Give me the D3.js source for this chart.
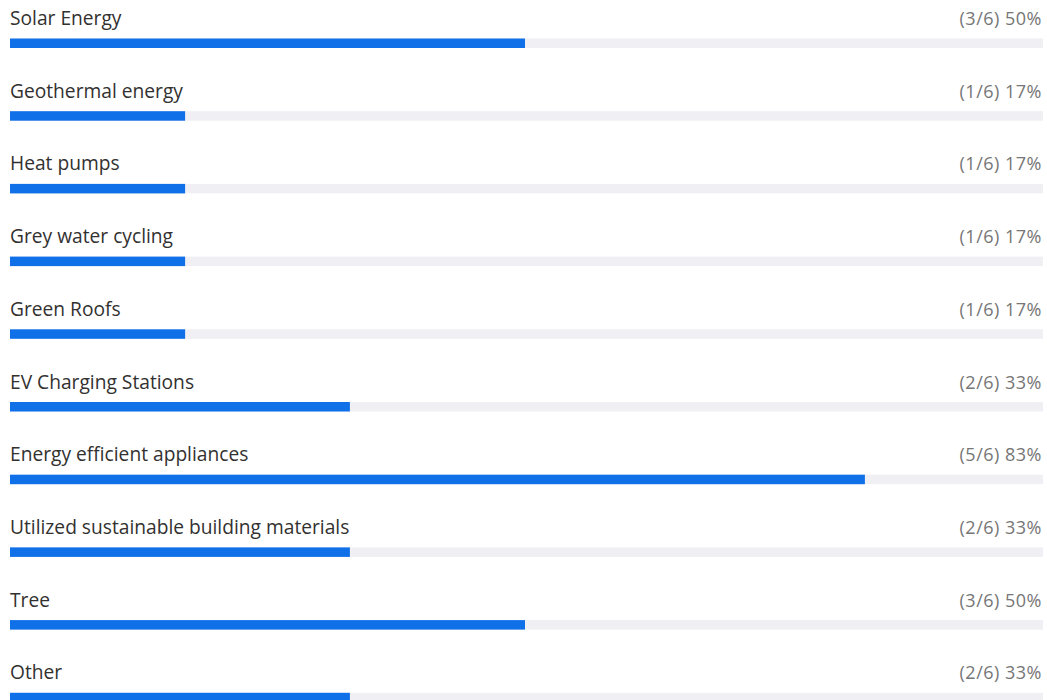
<!DOCTYPE html>
<html lang="en">
<head>
  <meta charset="UTF-8" />
  <title>Survey results</title>
  <style>
    html, body { margin: 0; padding: 0; background: #fff; }
    svg { display: block; }
    .label { font-family: "Open Sans", "Noto Sans", sans-serif; font-size: 19.2px; fill: #323130; }
    .count { font-family: "Open Sans", "Noto Sans", sans-serif; font-size: 18px; letter-spacing: 0.5px; fill: #767676; }
  </style>
</head>
<body>
  <svg></svg>
  <script src="https://d3js.org/d3.v7.min.js"></script>
  <script>
    const categories = [
      'Solar Energy', 'Geothermal energy', 'Heat pumps', 'Grey water cycling', 'Green Roofs',
      'EV Charging Stations', 'Energy efficient appliances', 'Utilized sustainable building materials',
      'Tree', 'Other'
    ];
    const votes = [3, 1, 1, 1, 1, 2, 5, 2, 3, 2];
    const total = 6;

    const width = 1047, height = 700;
    const svg = d3.select("svg").attr("width", width).attr("height", height);

    // bars are drawn from the rounded percentage shown in the label
    const pct = v => Math.round(v / total * 100);
    const x = d3.scaleLinear().domain([0, 100]).range([10, 1040]);
    const y = d3.scaleBand().domain(categories).range([0, 727]);

    const row = svg.selectAll("g.row")
      .data(categories.map((c, i) => ({ c, v: votes[i] })))
      .join("g")
      .attr("class", "row")
      .attr("transform", d => `translate(0,${y(d.c)})`);

    // track
    row.append("rect")
      .attr("x", 10)
      .attr("y", 38.5)
      .attr("width", 1033)
      .attr("height", 9.5)
      .attr("fill", "#efeff4");

    // value bar
    row.append("rect")
      .attr("x", x(0))
      .attr("y", 38.5)
      .attr("width", d => x(pct(d.v)) - x(0))
      .attr("height", 9.5)
      .attr("fill", "#1070e8");

    row.append("text")
      .attr("class", "label")
      .attr("x", 10)
      .attr("y", 25)
      .text(d => d.c);

    row.append("text")
      .attr("class", "count")
      .attr("x", 1042)
      .attr("y", 25)
      .attr("text-anchor", "end")
      .text(d => `(${d.v}/${total}) ${pct(d.v)}%`);
  </script>
</body>
</html>
